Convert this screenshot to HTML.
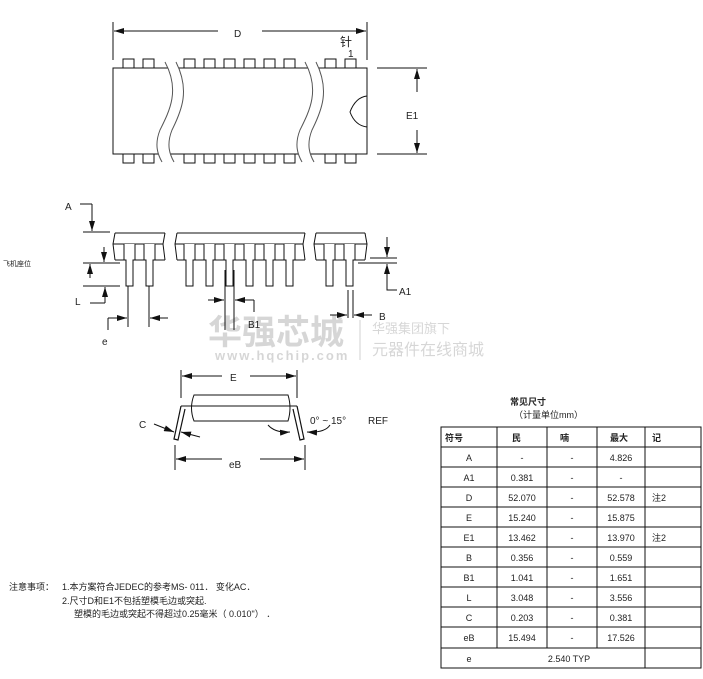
<!DOCTYPE html>
<html><head><meta charset="utf-8"><style>
body{margin:0;background:#fff}
svg{display:block}
text{font-family:"Liberation Sans","Noto Sans CJK SC",sans-serif;fill:#222}
</style></head><body>
<svg width="703" height="679" viewBox="0 0 703 679" xmlns="http://www.w3.org/2000/svg">
<defs>
<marker id="ar" viewBox="0 0 10 6" refX="10" refY="3" markerWidth="10" markerHeight="6" orient="auto" markerUnits="userSpaceOnUse"><path d="M0,0 L10,3 L0,6z" fill="#111"/></marker>
</defs>
<g stroke="#111" stroke-width="1" fill="none">
<!-- TOP VIEW -->
<line x1="113" y1="22" x2="113" y2="60"/><line x1="367" y1="22" x2="367" y2="60"/>
<line x1="218" y1="31" x2="114" y2="31" marker-end="url(#ar)"/>
<line x1="262" y1="31" x2="366" y2="31" marker-end="url(#ar)"/>
<rect x="113" y="68" width="254" height="86" fill="#fff"/>
<g fill="#fff">
<rect x="123" y="59" width="11" height="9"/><rect x="143" y="59" width="11" height="9"/>
<rect x="184" y="59" width="11" height="9"/><rect x="204" y="59" width="11" height="9"/><rect x="224" y="59" width="11" height="9"/><rect x="244" y="59" width="11" height="9"/><rect x="264" y="59" width="11" height="9"/><rect x="284" y="59" width="11" height="9"/>
<rect x="325" y="59" width="11" height="9"/><rect x="345" y="59" width="11" height="9"/>
<rect x="123" y="154" width="11" height="9"/><rect x="143" y="154" width="11" height="9"/>
<rect x="184" y="154" width="11" height="9"/><rect x="204" y="154" width="11" height="9"/><rect x="224" y="154" width="11" height="9"/><rect x="244" y="154" width="11" height="9"/><rect x="264" y="154" width="11" height="9"/><rect x="284" y="154" width="11" height="9"/>
<rect x="325" y="154" width="11" height="9"/><rect x="345" y="154" width="11" height="9"/>
</g>
<path d="M165,62 C180,90 170,110 160,130 C154,145 158,155 162,162 L174,162 C170,155 166,145 172,130 C182,110 190,90 176,62z" fill="#fff" stroke="none"/>
<path d="M165,62 C180,90 170,110 160,130 C154,145 158,155 162,162" stroke="#555"/>
<path d="M176,62 C190,90 182,110 172,130 C166,145 170,155 174,162" stroke="#555"/>
<path d="M305,62 C320,90 310,110 300,130 C294,145 298,155 302,162 L314,162 C310,155 306,145 312,130 C322,110 330,90 316,62z" fill="#fff" stroke="none"/>
<path d="M305,62 C320,90 310,110 300,130 C294,145 298,155 302,162" stroke="#555"/>
<path d="M316,62 C330,90 322,110 312,130 C306,145 310,155 314,162" stroke="#555"/>
<path d="M367,96 C358,97 353,104 350,112 C353,120 358,126 367,127"/>
<line x1="377" y1="68" x2="427" y2="68"/><line x1="377" y1="154" x2="427" y2="154"/>
<line x1="417" y1="92" x2="417" y2="69" marker-end="url(#ar)"/>
<line x1="417" y1="130" x2="417" y2="153" marker-end="url(#ar)"/>
<!-- SIDE VIEW -->
<path d="M115,233 H165 M177,233 H305 M316,233 H365" />
<path d="M115,233 L113,244 L115,260 M365,233 L367,244 L365,260"/>
<path d="M165,233 L163,244 L165,260 M177,233 L175,244 L177,260 M305,233 L303,244 L305,260 M316,233 L314,244 L316,260"/>
<path d="M113,244 H163 M175,244 H303 M314,244 H367"/>
<path d="M115,260 H165 M177,260 H305 M316,260 H365"/>
<g fill="#fff">
<path d="M124,244 V260 h2 V286 h7 V260 h2 V244"/>
<path d="M144,244 V260 h2 V286 h7 V260 h2 V244"/>
<path d="M184,244 V260 h2 V286 h7 V260 h2 V244"/>
<path d="M204,244 V260 h2 V286 h7 V260 h2 V244"/>
<path d="M224,244 V260 h2 V286 h7 V260 h2 V244"/>
<path d="M244,244 V260 h2 V286 h7 V260 h2 V244"/>
<path d="M264,244 V260 h2 V286 h7 V260 h2 V244"/>
<path d="M284,244 V260 h2 V286 h7 V260 h2 V244"/>
<path d="M324,244 V260 h2 V286 h7 V260 h2 V244"/>
<path d="M344,244 V260 h2 V286 h7 V260 h2 V244"/>
</g>
<path d="M80,204 H92"/><line x1="92" y1="204" x2="92" y2="231" marker-end="url(#ar)"/>
<line x1="83" y1="232" x2="110" y2="232"/>
<line x1="83" y1="263" x2="120" y2="263"/><line x1="83" y1="286" x2="120" y2="286"/>
<line x1="104" y1="247" x2="104" y2="262" marker-end="url(#ar)"/>
<line x1="90" y1="278" x2="90" y2="264" marker-end="url(#ar)"/>
<path d="M90,303 H105"/><line x1="105" y1="303" x2="105" y2="287" marker-end="url(#ar)"/>
<line x1="128" y1="286" x2="128" y2="327"/><line x1="149" y1="286" x2="149" y2="327"/>
<line x1="108" y1="318" x2="127" y2="318" marker-end="url(#ar)"/><path d="M108,318 V330"/>
<line x1="168" y1="318" x2="150" y2="318" marker-end="url(#ar)"/>
<line x1="225" y1="270" x2="225" y2="330"/><line x1="234" y1="270" x2="234" y2="330"/>
<line x1="208" y1="300" x2="224" y2="300" marker-end="url(#ar)"/>
<line x1="254" y1="300" x2="235" y2="300" marker-end="url(#ar)"/><path d="M254,300 V312"/>
<line x1="348" y1="290" x2="348" y2="318"/><line x1="353" y1="290" x2="353" y2="318"/>
<line x1="330" y1="315" x2="347" y2="315" marker-end="url(#ar)"/>
<line x1="372" y1="315" x2="354" y2="315" marker-end="url(#ar)"/>
<line x1="370" y1="258" x2="397" y2="258"/><line x1="358" y1="263" x2="397" y2="263"/>
<line x1="387" y1="237" x2="387" y2="257" marker-end="url(#ar)"/>
<line x1="387" y1="286" x2="387" y2="264" marker-end="url(#ar)"/><path d="M387,286 V290 H397"/>
<!-- END VIEW -->
<line x1="181" y1="370" x2="181" y2="398"/><line x1="297" y1="370" x2="297" y2="398"/>
<line x1="222" y1="376" x2="182" y2="376" marker-end="url(#ar)"/>
<line x1="250" y1="376" x2="296" y2="376" marker-end="url(#ar)"/>
<path d="M194,395 H288 Q292,408 288,421 H194 Q189,408 194,395z"/>
<path d="M181,406 H297"/>
<path d="M181,406 L174,439 L178,440 L185,409 M297,406 L304,439 L300,440 L293,409" stroke-width="1.2"/>
<line x1="175" y1="445" x2="175" y2="470"/><line x1="305" y1="445" x2="305" y2="470"/>
<line x1="222" y1="459" x2="176" y2="459" marker-end="url(#ar)"/>
<line x1="260" y1="459" x2="304" y2="459" marker-end="url(#ar)"/>
<path d="M154,424 L174,432" marker-end="url(#ar)"/>
<line x1="200" y1="437" x2="181" y2="432" marker-end="url(#ar)"/>
<path d="M268,425 Q275,433 290,432" marker-end="url(#ar)"/>
<path d="M330,425 Q325,433 307,432" marker-end="url(#ar)"/>
<!-- TABLE -->
<rect x="441" y="427" width="260" height="241"/>
<path d="M497,427 V648 M547,427 V648 M597,427 V648 M645,427 V668"/>
<path d="M441,447 H701 M441,467 H701 M441,487 H701 M441,507 H701 M441,527 H701 M441,547 H701 M441,567 H701 M441,587 H701 M441,607 H701 M441,627 H701 M441,648 H701"/>
</g>
<g font-size="10">
<text x="234" y="37">D</text><text x="340" y="46" font-size="12">针</text><text x="348" y="57">1</text>
<text x="406" y="119">E1</text>
<text x="65" y="210">A</text><text x="75" y="305">L</text><text x="102" y="345">e</text>
<text x="248" y="328">B1</text><text x="379" y="320">B</text><text x="399" y="295">A1</text>
<text x="3" y="266" font-size="7">飞机座位</text>
<text x="230" y="381">E</text><text x="229" y="468">eB</text><text x="139" y="428">C</text>
<text x="310" y="424">0° ~ 15°</text><text x="368" y="424">REF</text>
</g>
<g font-size="9">
<text x="9" y="590">注意事项：</text>
<text x="62" y="590">1.本方案符合JEDEC的参考MS- 011． 变化AC．</text>
<text x="62" y="604">2.尺寸D和E1不包括塑模毛边或突起.</text>
<text x="74" y="617">塑模的毛边或突起不得超过0.25毫米（ 0.010"） ．</text>
</g>
<g font-size="9">
<text x="510" y="405" font-weight="bold">常见尺寸</text>
<text x="514" y="418">（计量单位mm）</text>
<text x="445" y="441" font-weight="bold">符号</text><text x="512" y="441" font-weight="bold">民</text><text x="560" y="441" font-weight="bold">喃</text><text x="610" y="441" font-weight="bold">最大</text><text x="652" y="441" font-weight="bold">记</text>
</g>
<g font-size="9" text-anchor="middle">
<text x="469" y="461">A</text><text x="522" y="461">-</text><text x="572" y="461">-</text><text x="621" y="461">4.826</text>
<text x="469" y="481">A1</text><text x="522" y="481">0.381</text><text x="572" y="481">-</text><text x="621" y="481">-</text>
<text x="469" y="501">D</text><text x="522" y="501">52.070</text><text x="572" y="501">-</text><text x="621" y="501">52.578</text><text x="659" y="501">注2</text>
<text x="469" y="521">E</text><text x="522" y="521">15.240</text><text x="572" y="521">-</text><text x="621" y="521">15.875</text>
<text x="469" y="541">E1</text><text x="522" y="541">13.462</text><text x="572" y="541">-</text><text x="621" y="541">13.970</text><text x="659" y="541">注2</text>
<text x="469" y="561">B</text><text x="522" y="561">0.356</text><text x="572" y="561">-</text><text x="621" y="561">0.559</text>
<text x="469" y="581">B1</text><text x="522" y="581">1.041</text><text x="572" y="581">-</text><text x="621" y="581">1.651</text>
<text x="469" y="601">L</text><text x="522" y="601">3.048</text><text x="572" y="601">-</text><text x="621" y="601">3.556</text>
<text x="469" y="621">C</text><text x="522" y="621">0.203</text><text x="572" y="621">-</text><text x="621" y="621">0.381</text>
<text x="469" y="641">eB</text><text x="522" y="641">15.494</text><text x="572" y="641">-</text><text x="621" y="641">17.526</text>
<text x="469" y="662">e</text><text x="569" y="662">2.540 TYP</text>
</g>
<!-- watermark -->
<g opacity="0.18">
<text x="208" y="344" font-size="34" font-weight="bold">华强芯城</text>
<text x="215" y="360" font-size="13" font-weight="bold" letter-spacing="2">www.hqchip.com</text>
<line x1="360" y1="320" x2="360" y2="360" stroke="#000"/>
<text x="372" y="333" font-size="13">华强集团旗下</text>
<text x="372" y="355" font-size="16">元器件在线商城</text>
</g>
</svg>
</body></html>
